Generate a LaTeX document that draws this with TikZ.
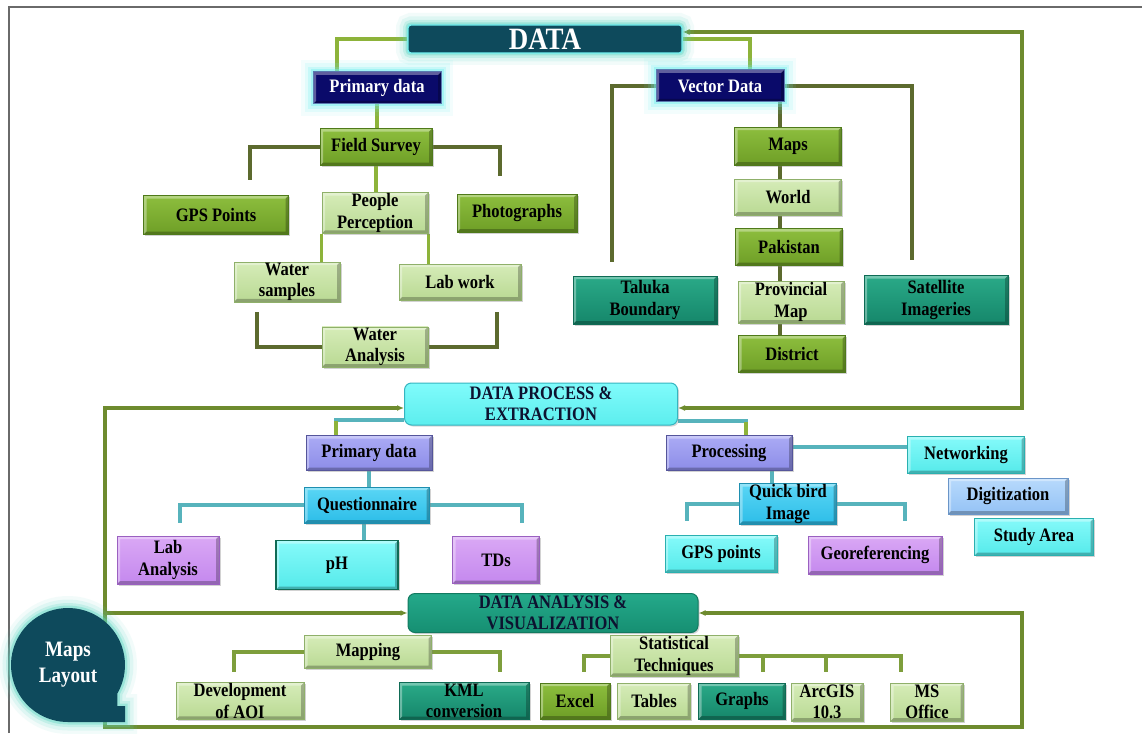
\documentclass[tikz,border=0pt]{standalone}
\usepackage{fontspec}
\setmainfont[FakeStretch=0.87]{Liberation Serif}
\usetikzlibrary{arrows.meta,shadows}
\pgfdeclarelayer{back}
\pgfdeclarelayer{bg}
\pgfsetlayers{back,bg,main}
\definecolor{datac}{HTML}{0E4A5C}
\definecolor{glowc}{HTML}{5FD8C4}
\definecolor{glowb}{HTML}{6FF0F0}
\definecolor{framec}{HTML}{6A6A6A}
\definecolor{lgl}{HTML}{8DB33A}
\definecolor{dol}{HTML}{5C6A2E}
\definecolor{tll}{HTML}{57B3BC}
\definecolor{oll}{HTML}{6E8B2E}
\definecolor{mgl}{HTML}{7E9E3C}
\definecolor{navyf}{HTML}{0A0A6A}
\definecolor{navyd}{HTML}{5A7AB0}
\definecolor{dpetop}{HTML}{80FBFB}
\definecolor{dpebot}{HTML}{5CEEEE}
\definecolor{dped}{HTML}{35B5C0}
\definecolor{davtop}{HTML}{24A98A}
\definecolor{davbot}{HTML}{168F72}
\definecolor{davd}{HTML}{127A60}
\definecolor{dtext}{HTML}{0D1230}
\begin{document}
\begin{tikzpicture}[x=1pt,y=-1pt,
  every node/.style={font=\bfseries\fontsize{19}{21.5}\selectfont, align=center, inner sep=1pt, text=black},
  ln/.style={draw=#1, line width=3.1pt},
  bevel/.style={path picture={
    \fill[white,opacity=.35] (path picture bounding box.south west) -- (path picture bounding box.north west) -- (path picture bounding box.north east) -- ([shift={(-3pt,-3pt)}]path picture bounding box.north east) -- ([shift={(3pt,-3pt)}]path picture bounding box.north west) -- ([shift={(3pt,3pt)}]path picture bounding box.south west) -- cycle;
    \fill[black,opacity=.25] (path picture bounding box.south west) -- (path picture bounding box.south east) -- (path picture bounding box.north east) -- ([shift={(-3pt,-3pt)}]path picture bounding box.north east) -- ([shift={(-3pt,3pt)}]path picture bounding box.south east) -- ([shift={(3pt,3pt)}]path picture bounding box.south west) -- cycle;}},
  bx/.style n args={3}{rectangle, draw=#3, line width=0.8pt, top color=#1, bottom color=#2, bevel, drop shadow={shadow xshift=1.5pt, shadow yshift=-1.5pt, opacity=0.35}},
  sz/.style 2 args={minimum width=#1, minimum height=#2},
  glow/.style={preaction={draw=#1, line width=24pt, opacity=0.08, rounded corners=10pt},
               preaction={draw=#1, line width=17pt, opacity=0.13, rounded corners=8pt},
               preaction={draw=#1, line width=10pt, opacity=0.22, rounded corners=6pt},
               preaction={draw=#1, line width=5pt, opacity=0.4, rounded corners=4pt}},
  nbox/.style={rectangle, glow=glowb, fill=navyf, draw=navyd, line width=1pt, bevel, text=white},
  tip/.style={-{Latex[length=7pt,width=6pt]}}
]
\definecolor{c1}{HTML}{8DBE3E}\definecolor{c2}{HTML}{6E9E26}\definecolor{c3}{HTML}{4F7A1A}
\definecolor{c4}{HTML}{D6ECB8}\definecolor{c5}{HTML}{B9D993}\definecolor{c6}{HTML}{8FB06A}
\definecolor{c7}{HTML}{2AAA88}\definecolor{c8}{HTML}{15866A}\definecolor{c9}{HTML}{0F6B55}
\definecolor{c10}{HTML}{85FAFA}\definecolor{c11}{HTML}{55EAEA}\definecolor{c12}{HTML}{2AB0B0}
\definecolor{c13}{HTML}{5AD6F5}\definecolor{c14}{HTML}{2CBDE8}\definecolor{c15}{HTML}{1E8FB0}
\definecolor{c16}{HTML}{ABABF5}\definecolor{c17}{HTML}{8C8CE8}\definecolor{c18}{HTML}{55559A}
\definecolor{c19}{HTML}{DAA8F5}\definecolor{c20}{HTML}{C488EE}\definecolor{c21}{HTML}{9A60C0}
\definecolor{c22}{HTML}{B8DAFC}\definecolor{c23}{HTML}{94C2F5}\definecolor{c24}{HTML}{6A95C8}
\tikzset{
  gbox/.style={bx={c1}{c2}{c3}},
  lgbox/.style={bx={c4}{c5}{c6}},
  tbox/.style={bx={c7}{c8}{c9}},
  cbox/.style={bx={c10}{c11}{c12}},
  sbox/.style={bx={c13}{c14}{c15}},
  pbox/.style={bx={c16}{c17}{c18}},
  vbox/.style={bx={c19}{c20}{c21}},
  bbox/.style={bx={c22}{c23}{c24}}
}
\useasboundingbox (0,0) rectangle (1142,733);
\begin{pgfonlayer}{back}
\fill[white] (0,0) rectangle (1142,733);
\end{pgfonlayer}
\draw[framec, line width=1.6pt] (9,733) -- (9,7) -- (1142,7);

% ---------- DATA section ----------
\node[glow=glowc, fill=datac, draw=glowb, line width=1.2pt, rounded corners=3pt, sz={274pt}{28pt}, text=white, font=\bfseries\fontsize{31}{31}\selectfont] (data) at (545,39) {DATA};
\node[nbox, sz={128pt}{32pt}, text=white] (pd1) at (377,88) {Primary data};
\node[nbox, sz={128pt}{32pt}, text=white] (vd) at (720,86) {Vector Data};

\node[gbox, sz={112pt}{37pt}] (fs) at (376,147) {Field Survey};
\node[gbox, sz={145pt}{39pt}] (gps) at (216,215) {GPS Points};
\node[gbox, sz={120pt}{38pt}] (photo) at (517,213) {Photographs};
\node[lgbox, sz={106pt}{39pt}] (pp) at (375,213) {People\\Perception};
\node[lgbox, sz={106pt}{39pt}] (ws) at (287,282) {Water\\samples};
\node[lgbox, sz={122pt}{36pt}] (lw) at (460,282) {Lab work};
\node[lgbox, sz={106pt}{37pt}] (wa) at (375,347) {Water\\Analysis};

\node[gbox, sz={107pt}{38pt}] (maps) at (788,146) {Maps};
\node[lgbox, sz={107pt}{36pt}] (world) at (788,197) {World};
\node[gbox, sz={107pt}{37pt}] (pak) at (789,247) {Pakistan};
\node[lgbox, sz={106pt}{42pt}] (prov) at (791,302) {Provincial\\Map};
\node[gbox, sz={107pt}{37pt}] (dist) at (792,354) {District};
\node[tbox, sz={144pt}{48pt}] (tal) at (645,300) {Taluka\\Boundary};
\node[tbox, sz={144pt}{49pt}] (sat) at (936,300) {Satellite\\Imageries};

% ---------- DATA PROCESS section ----------
\node[rectangle, rounded corners=7pt, top color=dpetop, bottom color=dpebot, draw=dped, line width=1pt, sz={273pt}{42pt}, font=\bfseries\fontsize{19}{21}\selectfont, text=dtext, drop shadow={shadow xshift=1.5pt, shadow yshift=-1.5pt, opacity=0.3}] (dpe) at (541,404) {DATA PROCESS \&\\EXTRACTION};
\node[pbox, sz={126pt}{35pt}] (pd2) at (369,453) {Primary data};
\node[pbox, sz={126pt}{35pt}] (proc) at (729,453) {Processing};
\node[cbox, sz={117pt}{37pt}] (net) at (966,455) {Networking};
\node[bbox, sz={120pt}{36pt}] (dig) at (1008,496) {Digitization};
\node[cbox, sz={119pt}{37pt}] (sa) at (1034,537) {Study Area};
\node[sbox, sz={97pt}{38pt}] (qb) at (788,504) {Quick bird\\Image};
\node[cbox, sz={112pt}{37pt}] (gpsp) at (721,554) {GPS points};
\node[vbox, sz={134pt}{38pt}] (geo) at (875,555) {Georeferencing};
\node[sbox, sz={125pt}{36pt}] (q) at (367,505) {Questionnaire};
\node[vbox, sz={102pt}{48pt}] (la) at (168,560) {Lab\\Analysis};
\node[cbox, draw=c9, line width=1.2pt, sz={122pt}{49pt}] (ph) at (337,565) {pH};
\node[vbox, sz={87pt}{47pt}] (tds) at (496,560) {TDs};

% ---------- DATA ANALYSIS section ----------
\node[rectangle, rounded corners=7pt, top color=davtop, bottom color=davbot, draw=davd, line width=1pt, sz={290pt}{39pt}, font=\bfseries\fontsize{19}{21}\selectfont, text=dtext, drop shadow={shadow xshift=1.5pt, shadow yshift=-1.5pt, opacity=0.3}] (dav) at (553,613) {DATA ANALYSIS \&\\VISUALIZATION};
\node[lgbox, sz={127pt}{33pt}] (map) at (368,652) {Mapping};
\node[lgbox, sz={128pt}{36pt}] (aoi) at (240,701) {Development\\of AOI};
\node[tbox, sz={130pt}{37pt}] (kml) at (464,701) {KML\\conversion};
\node[lgbox, sz={128pt}{37pt}] (st) at (674,656) {Statistical\\Techniques};
\node[gbox, sz={70pt}{36pt}] (excel) at (575,701) {Excel};
\node[lgbox, sz={73pt}{36pt}] (tables) at (654,701) {Tables};
\node[tbox, sz={87pt}{36pt}] (graphs) at (742,701) {Graphs};
\node[lgbox, sz={72pt}{38pt}] (arc) at (827,702) {ArcGIS\\10.3};
\node[lgbox, sz={73pt}{38pt}] (ms) at (927,702) {MS\\Office};

% ---------- Maps Layout bubble ----------
\path[glow=glowc, fill=datac] (117.36,693.5) arc[start angle=30, end angle=-270, radius=57] -- (125,722) -- (125,706) -- (117.36,706) -- cycle;
\node[text=white, font=\bfseries\fontsize{22}{26}\selectfont] (ml) at (68,665) {Maps\\Layout};

% ---------- connectors ----------
\begin{pgfonlayer}{bg}
\draw[ln=lgl] (data.west) -| (337,0 |- pd1.north);
\draw[ln=lgl] (data.east) -| (750,0 |- vd.north);
\draw[ln=oll, {Latex[length=7pt,width=6pt]}-{Latex[length=7pt,width=6pt]}] ([yshift=7pt]data.east) -| (1022,408) -- (dpe.east |- 1022,408);
\draw[ln=lgl] (pd1.south) -- (pd1.south |- fs.north);
\draw[ln=dol] (fs.west) -| (250,180);
\draw[ln=dol] (fs.east) -| (500,176);
\draw[ln=lgl] (fs.south) -- (fs.south |- pp.north);
\draw[ln=lgl] (pp.south west) -- (pp.south west |- ws.north);
\draw[ln=lgl] (pp.south east) -- (pp.south east |- lw.north);
\draw[ln=dol] (257,312) |- (wa.west);
\draw[ln=dol] (497,312) |- (wa.east);
\draw[ln=dol] (vd.west) -| (612,262);
\draw[ln=dol] (vd.east) -| (912,260);
\draw[ln=dol] (780,0 |- vd.south) -- (780,0 |- dist.north);

\draw[ln=tll] ([yshift=-16pt]dpe.west) -| (336,0 |- pd2.north);
\draw[ln=lgl] (336,0 |- pd2.north) -- (336,421);
\draw[ln=tll] ([yshift=-17pt]dpe.east) -| (746,0 |- proc.north);
\draw[ln=lgl] (746,0 |- proc.north) -- (746,422);
\draw[ln=tll] ([yshift=6pt]proc.east) -- ([yshift=6pt]proc.east -| net.west);
\draw[ln=tll] (772,0 |- proc.south) -- (772,0 |- qb.north);
\draw[ln=tll] (qb.west) -| (687,521);
\draw[ln=tll] (qb.east) -| (905,521);
\draw[ln=tll] (pd2.south) -- (pd2.south |- q.north);
\draw[ln=tll] (q.west) -| (180,523);
\draw[ln=tll] (q.east) -| (522,523);
\draw[ln=tll] (364,0 |- q.south) -- (364,0 |- ph.north);

\draw[ln=oll, tip] (ml.center -| 105,0) |- (dpe.west |- 105,408);
\draw[ln=oll, tip] (105,0 |- dav.west) -- (dav.west);
\draw[ln=oll, tip] (ml.center -| 105,0) |- (1022,727) |- (dav.east);
\draw[ln=mgl] (map.west) -| (234,672);
\draw[ln=mgl] (map.east) -| (500,672);
\draw[ln=mgl] (st.west) -| (584,672);
\draw[ln=mgl] (st.east) -| (901,672);
\draw[ln=mgl] (763,0 |- st.east) -- (763,672);
\draw[ln=mgl] (826,0 |- st.east) -- (826,672);
\end{pgfonlayer}
\end{tikzpicture}
\end{document}
